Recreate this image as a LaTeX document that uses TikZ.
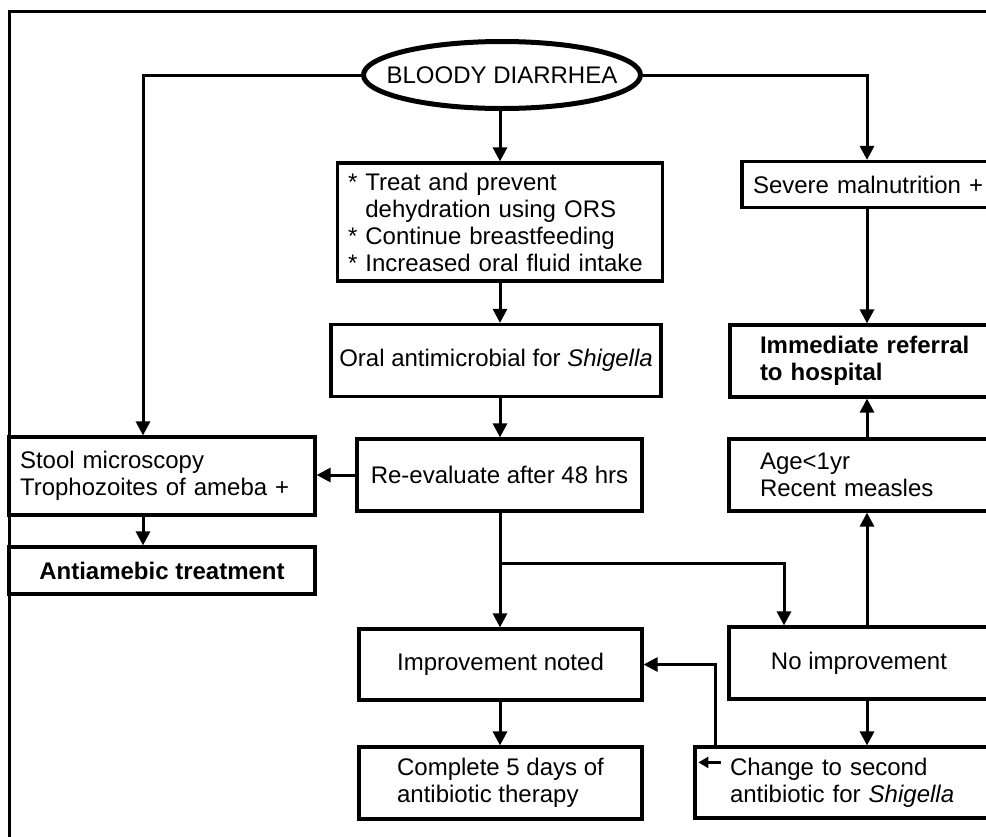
\documentclass[tikz,border=0pt]{standalone}
\usepackage{fontspec}
\setmainfont{Liberation Sans}
\usetikzlibrary{arrows.meta,shapes.geometric}

\begin{document}
\begin{tikzpicture}[x=1pt, y=-1pt,
    box/.style={draw, line width=3.2pt, inner sep=0pt, font=\fontsize{24}{27}\selectfont},
    boldbox/.style={box, font=\fontsize{24}{27}\selectfont\bfseries},
    arr/.style={line width=3pt, -{Triangle[length=14pt, width=14pt]}},
    wire/.style={line width=3pt}]
    \useasboundingbox (0,0) rectangle (986,836);
    \clip (0,0) rectangle (986,836);
    \fill[white] (0,0) rectangle (986,836);
    \draw[wire] (9,11) rectangle (1100,950);
    \node[box, ellipse, line width=5pt, minimum width=277pt, minimum height=67pt] (bd) at (502,75) {\makebox[0pt]{BLOODY DIARRHEA}};
    \node[box, minimum width=325pt, minimum height=118pt, text width=304pt, align=left] (ors) at (500,222) {{*} Treat and prevent\\\hphantom{* }dehydration using ORS\\{*} Continue breastfeeding\\{*} Increased oral fluid intake};
    \node[box, minimum width=258pt, minimum height=46pt, text width=236pt, align=left] (malnut) at (871,184.5) {Severe malnutrition +};
    \node[box, minimum width=330pt, minimum height=72pt] (oral) at (496,360.5) {Oral antimicrobial for \textit{Shigella}};
    \node[boldbox, minimum width=270pt, minimum height=72pt, text width=210pt, align=left] (refer) at (865,361) {Immediate referral\\to hospital};
    \node[box, minimum width=306pt, minimum height=78pt, text width=284pt, align=left] (stool) at (162,476) {Stool microscopy\\Trophozoites of ameba +};
    \node[boldbox, minimum width=306pt, minimum height=47pt] (amebic) at (162,570.5) {Antiamebic treatment};
    \node[box, minimum width=285pt, minimum height=72pt] (reeval) at (499.5,475) {Re-evaluate after 48 hrs};
    \node[box, minimum width=271pt, minimum height=72pt, text width=209pt, align=left] (risk) at (864.5,475) {Age<1yr\\Recent measles};
    \node[box, minimum width=283pt, minimum height=71pt] (better) at (500.5,664.5) {Improvement noted};
    \node[box, minimum width=260pt, minimum height=72pt] (worse) at (859,663) {No improvement};
    \node[box, minimum width=283pt, minimum height=72pt, align=left] (course) at (500.5,783) {Complete 5 days of\\antibiotic therapy};
    \node[box, minimum width=305pt, minimum height=71pt, text width=235pt, align=left] (second) at (847.5,782.5) {Change to second\\antibiotic for \textit{Shigella}};
    \coordinate (lcol) at (143,0);
    \coordinate (mcol) at (500,0);
    \coordinate (rcol) at (867,0);
    \coordinate (fork) at (500,563);
    \coordinate (split) at (784,563);
    \coordinate (back) at (715,664);
    \draw[arr] (bd.west) -| (lcol |- stool.north);
    \draw[arr] (bd.east) -| (rcol |- malnut.north);
    \draw[arr] (mcol |- bd.south) -- (mcol |- ors.north);
    \draw[arr] (mcol |- ors.south) -- (mcol |- oral.north);
    \draw[arr] (mcol |- oral.south) -- (mcol |- reeval.north);
    \draw[arr] (reeval.west) -- (reeval.west -| stool.east);
    \draw[arr] (lcol |- stool.south) -- (lcol |- amebic.north);
    \draw[arr] (rcol |- malnut.south) -- (rcol |- refer.north);
    \draw[arr] (rcol |- risk.north) -- (rcol |- refer.south);
    \draw[arr] (rcol |- worse.north) -- (rcol |- risk.south);
    \draw[arr] (mcol |- reeval.south) -- (mcol |- better.north);
    \draw[arr] (fork) -| (split |- worse.north);
    \draw[arr] (mcol |- better.south) -- (mcol |- course.north);
    \draw[arr] (rcol |- worse.south) -- (rcol |- second.north);
    \draw[arr] (back |- second.north) |- (better.east);
    \draw[line width=2.5pt, -{Triangle[length=10pt, width=11pt]}] ([shift={(28,17)}]second.north west) -- ++(-23,0);
\end{tikzpicture}
\end{document}
